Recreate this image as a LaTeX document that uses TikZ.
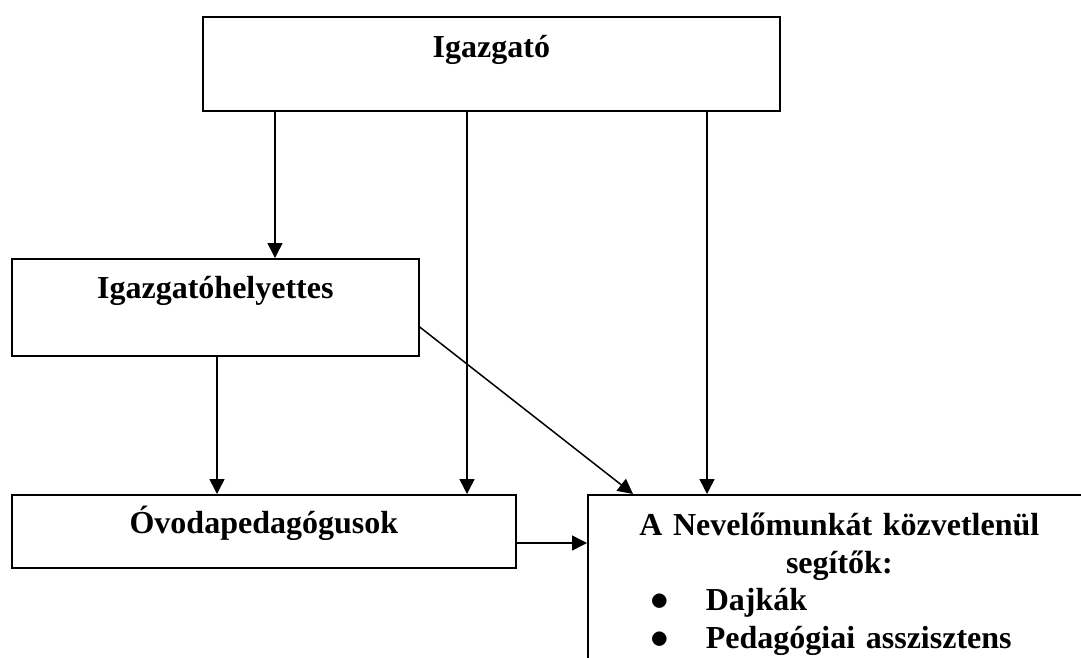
\documentclass[tikz,border=0pt]{standalone}
\usepackage{fontspec}
\setmainfont{Liberation Serif}
\usetikzlibrary{arrows.meta,positioning,calc}

\begin{document}
\begin{tikzpicture}[>={Triangle[width=15pt,length=15pt]},
x=1pt, y=-1pt,
font=\fontsize{32}{37.5}\selectfont\bfseries]
\tikzstyle{box}=[rectangle, draw, line width=1.7pt, anchor=north west,
 inner sep=0pt, align=center]
\tikzstyle{link}=[->, line width=1.5pt]
\newcommand{\itemdot}{\makebox[55pt][l]{\scalebox{1.5}{$\bullet$}}}

\useasboundingbox (0,0) rectangle (1081,657);

\node[box, minimum width=577pt, text height=41pt, text depth=53pt] (igazgato) at (202,16) {Igazgató};

\node[box, minimum width=407pt, text height=40pt, text depth=57pt] (helyettes) at (11,258) {Igazgatóhelyettes};

\node[box, minimum width=504pt, text height=39pt, text depth=34pt] (ovoda) at (11,494) {Óvodapedagógusok};

\node[box, text width=503pt, text height=41pt, text depth=170pt] (seg) at (587,494) {A Nevelőmunkát közvetlenül\\
 segítők:\\
 \makebox[503pt][l]{\hspace*{63pt}\itemdot Dajkák}\\
 \makebox[503pt][l]{\hspace*{63pt}\itemdot Pedagógiai asszisztens}};

%from the top
\coordinate (a1) at ([xshift=73pt]igazgato.south west);
\coordinate (a2) at ([xshift=265pt]igazgato.south west);
\coordinate (a3) at ([xshift=505pt]igazgato.south west);
\draw[link] (a1) -- (a1 |- helyettes.north);
\draw[link] (a2) -- (a2 |- ovoda.north);
\draw[link] (a3) -- (a3 |- seg.north);

%from the deputy
\coordinate (b1) at ([xshift=206pt]helyettes.south west);
\coordinate (b2) at ([yshift=-69pt]helyettes.north east);
\coordinate (b3) at ([xshift=46pt]seg.north west);
\draw[link] (b1) -- (b1 |- ovoda.north);
\draw[link] (b2) -- (b3);

%side arrow
\coordinate (c1) at ([yshift=-49pt]ovoda.north east);
\draw[link] (c1) -- (c1 -| seg.west);

\end{tikzpicture}
\end{document}
